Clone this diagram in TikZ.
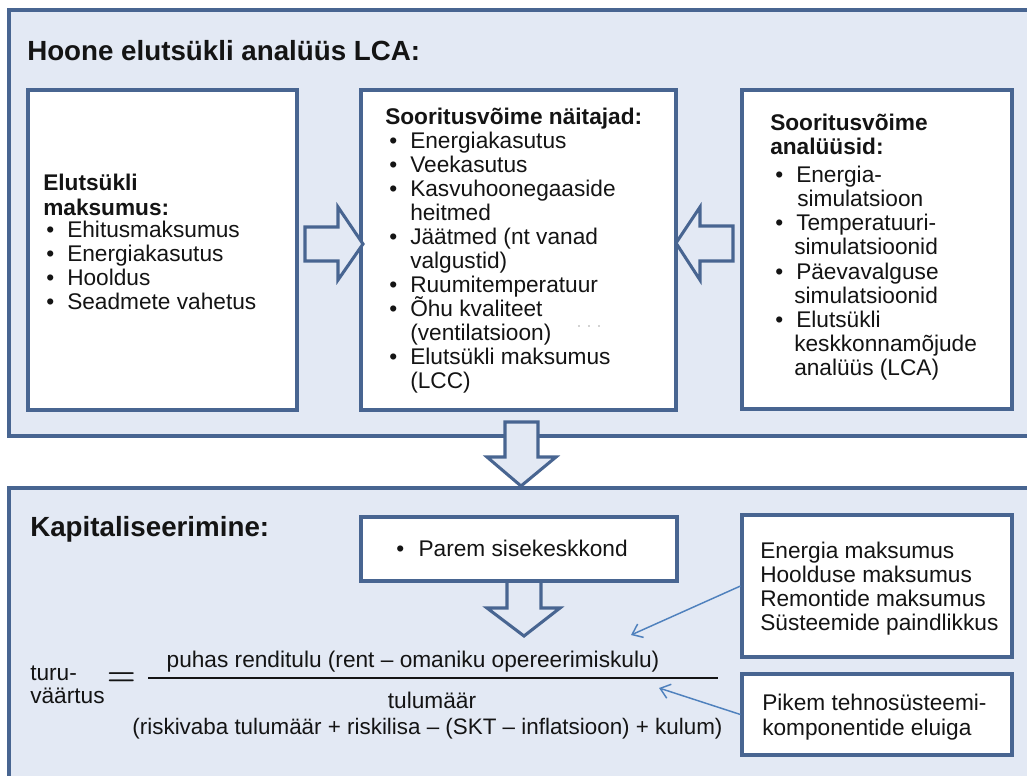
\documentclass[tikz,border=0pt]{standalone}
\usepackage{fontspec}
\setmainfont{Liberation Sans}
\usetikzlibrary{arrows.meta,fit}
\definecolor{panelfill}{RGB}{227,233,244}
\definecolor{edge}{RGB}{72,101,145}
\definecolor{thinarrow}{RGB}{79,129,189}
\definecolor{ink}{RGB}{20,20,20}
\newcommand\bul{\makebox[15.75pt][l]{•}}
\newcommand\boldeq{\mbox{\boldmath$=$}}
\begin{document}
\begin{tikzpicture}[x=0.75pt,y=-0.75pt,
  panel/.style={draw=edge,line width=2.6pt,fill=panelfill,inner sep=0pt},
  box/.style={draw=edge,line width=2.3pt,fill=white,inner sep=0pt},
  blockarrow/.style={draw=edge,line width=2.3pt,fill=panelfill,line join=miter},
  body/.style={font=\fontsize{17}{18}\selectfont,text=ink,anchor=base west,inner sep=0pt},
  bodyb/.style={body,font=\fontsize{17}{18}\selectfont\bfseries},
  titlef/.style={font=\fontsize{20.8}{24}\selectfont\bfseries,text=ink,anchor=base west,inner sep=0pt},
  thin/.style={draw=thinarrow,line width=1.1pt,-{Straight Barb[length=7pt,width=11pt]}}]
\useasboundingbox (0,0) rectangle (1027,775);
\clip (0,0) rectangle (1027,775);

% panels
\node[panel,fit={(9,10)(1045,436)}] (panelA) {};
\node[panel,fit={(9,488)(1045,800)}] (panelB) {};

% boxes of the upper panel
\node[box,fit={(28,90)(297,410)}] (lbox) {};
\node[box,fit={(361,90)(676,410)}] (mbox) {};
\node[box,fit={(742,90)(1012,409)}] (rbox) {};

% block arrows upper panel
\draw[blockarrow] (305,227) -- (338,227) -- (338,207) -- (363,244) -- (338,280) -- (338,261) -- (305,261) -- cycle;
\draw[blockarrow] (733,226) -- (700,226) -- (700,207) -- (676,243) -- (700,280) -- (700,261) -- (733,261) -- cycle;
% down arrow between panels
\draw[blockarrow] (505,422) -- (538,422) -- (538,457) -- (556,457) -- (521,486) -- (487,457) -- (505,457) -- cycle;

% lower panel boxes
\draw[blockarrow] (507,578) -- (541,578) -- (541,608) -- (560,608) -- (524,636) -- (487,608) -- (507,608) -- cycle;
\node[box,fit={(361,517)(677,581)}] (parem) {};
\node[box,fit={(742,515)(1012,657)}] (cost) {};
\node[box,fit={(742,674)(1012,755)}] (life) {};

% titles
\node[titlef] (title1) at (27,60) {Hoone elutsükli analüüs LCA:};
\node[titlef] (title2) at (30,536) {Kapitaliseerimine:};

% left box text
\node[bodyb] (l0) at (43,190) {Elutsükli};
\node[bodyb] (l1) at (43,215) {maksumus:};
\node[body] (l2) at (46,237) {\bul Ehitusmaksumus};
\node[body] (l3) at (46,261) {\bul Energiakasutus};
\node[body] (l4) at (46,285) {\bul Hooldus};
\node[body] (l5) at (46,309) {\bul Seadmete vahetus};

% middle box text
\node[bodyb] (m0) at (385,124) {Sooritusvõime näitajad:};
\node[body] (m1) at (389,148) {\bul Energiakasutus};
\node[body] (m2) at (389,172) {\bul Veekasutus};
\node[body] (m3) at (389,196) {\bul Kasvuhoonegaaside};
\node[body] (m4) at (410,220) {heitmed};
\node[body] (m5) at (389,244) {\bul Jäätmed (nt vanad};
\node[body] (m6) at (410,268) {valgustid)};
\node[body] (m7) at (389,292) {\bul Ruumitemperatuur};
\node[body] (m8) at (389,316) {\bul Õhu kvaliteet};
\node[body] (m9) at (410,340) {(ventilatsioon)};
\node[body] (m10) at (389,364) {\bul Elutsükli maksumus};
\node[body] (m11) at (410,388) {(LCC)};
\foreach \x in {579,589,599} \fill[black!35] (\x,326) circle (0.9);

% right box text
\node[bodyb] (r0) at (770,130) {Sooritusvõime};
\node[bodyb] (r1) at (770,154) {analüüsid:};
\node[body] (r2) at (775,182) {\bul Energia-};
\node[body] (r3) at (797,206) {simulatsioon};
\node[body] (r4) at (775,230) {\bul Temperatuuri-};
\node[body] (r5) at (794,254) {simulatsioonid};
\node[body] (r6) at (775,279) {\bul Päevavalguse};
\node[body] (r7) at (794,303) {simulatsioonid};
\node[body] (r8) at (775,327) {\bul Elutsükli};
\node[body] (r9) at (794,351) {keskkonnamõjude};
\node[body] (r10) at (794,375) {analüüs (LCA)};

% lower panel text
\node[body] (p0) at (396,556) {\bul\hspace{1pt}Parem sisekeskkond};
\node[body] (c0) at (760,558) {Energia maksumus};
\node[body] (c1) at (760,582) {Hoolduse maksumus};
\node[body] (c2) at (760,606) {Remontide maksumus};
\node[body] (c3) at (760,630) {Süsteemide paindlikkus};
\node[body] (e0) at (762,710) {Pikem tehnosüsteemi-};
\node[body] (e1) at (762,735) {komponentide eluiga};

% formula
\node[body] (v0) at (30,680) {turu-};
\node[body] (v1) at (30,703) {väärtus};
\node[font=\fontsize{25}{30}\selectfont,text=ink,inner sep=0pt] (eq) at (121.5,679) {\boldeq};
\node[body,anchor=base] (num) at (413,667) {puhas renditulu (rent – omaniku opereerimiskulu)};
\draw[ink,line width=1.1pt] (148,678) -- (718,678);
\node[body,anchor=base] (den0) at (432,708) {tulumäär};
\node[body,anchor=base,font=\fontsize{16.8}{18}\selectfont] (den1) at (427.5,734) {(riskivaba tulumäär + riskilisa – (SKT – inflatsioon) + kulum)};

% thin arrows
\coordinate (numtip) at (631,635);
\coordinate (dentip) at (659,688);
\draw[thin] (cost.west) -- (numtip);
\draw[thin] (life.west) -- (dentip);
\end{tikzpicture}
\end{document}
